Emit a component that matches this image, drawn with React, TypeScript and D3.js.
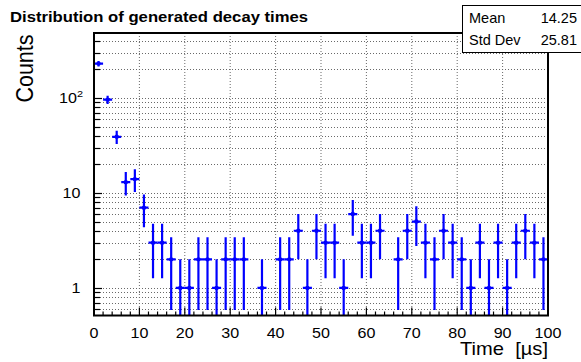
import React from "react";
import * as d3 from "d3";

// Histogram of generated decay times: 50 bins of 2 µs between 0 and 100 µs
const binCenters = [
  1, 3, 5, 7, 9, 11, 13, 15, 17, 19,
  21, 23, 25, 27, 29, 31, 33, 35, 37, 39,
  41, 43, 45, 47, 49, 51, 53, 55, 57, 59,
  61, 63, 65, 67, 69, 71, 73, 75, 77, 79,
  81, 83, 85, 87, 89, 91, 93, 95, 97, 99,
];
const binHalfWidth = 1;
const counts = [
  230, 96, 39, 13, 14, 7, 3, 3, 2, 1,
  1, 2, 2, 1, 2, 2, 2, 0, 1, 0,
  2, 2, 4, 1, 4, 3, 3, 1, 6, 3,
  3, 4, 0, 2, 4, 5, 3, 2, 4, 3,
  2, 1, 3, 1, 3, 1, 3, 4, 3, 2,
];

const xTickValues = [0, 10, 20, 30, 40, 50, 60, 70, 80, 90, 100];
const yLabelValues = [1, 10, 100];
const titleText = "Distribution of generated decay times";
const xTitle = "Time  [µs]";
const yTitle = "Counts";
const statNames = ["Mean", "Std Dev"];
const statValues = ["14.25", "25.81"];

const W = 581;
const H = 362;
const frame = { left: 94, right: 548, top: 33, bottom: 315.5 };
// glyphs are drawn slightly wider than tall
const stretch = 1.15;

type TProps = {
  x: number;
  y: number;
  size: number;
  anchor?: "start" | "middle" | "end";
  bold?: boolean;
  rotate?: number;
  children: React.ReactNode;
};

function WideText({ x, y, size, anchor = "start", bold, rotate, children }: TProps) {
  const t = `translate(${x},${y}) scale(${stretch},1)` + (rotate ? ` rotate(${rotate})` : "");
  return (
    <text
      transform={t}
      fontSize={size}
      textAnchor={anchor}
      fontWeight={bold ? "bold" : "normal"}
      fill="#000"
      style={{ whiteSpace: "pre" }}
    >
      {children}
    </text>
  );
}

export default function App() {
  const x = d3.scaleLinear().domain([0, 100]).range([frame.left, frame.right]);
  const y = d3.scaleLog().domain([0.513, 483]).range([frame.bottom, frame.top]);

  // all 1..9 x 10^k steps inside the visible range
  const [yMin, yMax] = y.domain();
  const yAllTicks: number[] = [];
  for (let e = -1; e <= 3; e++) {
    for (let m = 1; m <= 9; m++) {
      const v = m * Math.pow(10, e);
      if (v >= yMin && v <= yMax) yAllTicks.push(v);
    }
  }
  const xMinorTicks = d3.range(0, 100.001, 2);

  const font = "'Liberation Sans', Arial, Helvetica, sans-serif";
  const blue = "#0000ff";

  return (
    <svg
      width={W}
      height={H}
      style={{ position: "fixed", left: 0, top: 0, background: "#fff" }}
      fontFamily={font}
    >
      <defs>
        <clipPath id="plotArea">
          <rect
            x={frame.left}
            y={frame.top}
            width={frame.right - frame.left}
            height={frame.bottom - frame.top}
          />
        </clipPath>
      </defs>
      <rect x={0} y={0} width={W} height={H} fill="#fff" />

      {/* grid */}
      <g stroke="#444" strokeWidth={1} strokeDasharray="1 2" opacity={0.8}>
        {xTickValues.slice(1, -1).map((v) => (
          <line key={"gx" + v} x1={x(v)} x2={x(v)} y1={frame.top} y2={frame.bottom} />
        ))}
        {yAllTicks.map((v) => (
          <line
            key={"gy" + v}
            x1={frame.left}
            x2={frame.right}
            y1={Math.round(y(v)) + 0.5}
            y2={Math.round(y(v)) + 0.5}
          />
        ))}
      </g>

      {/* axis ticks */}
      <g stroke="#000" strokeWidth={1.2}>
        {xMinorTicks.map((v) => {
          const major = v % 10 === 0;
          return (
            <line
              key={"tx" + v}
              x1={x(v)}
              x2={x(v)}
              y1={frame.bottom}
              y2={frame.bottom - (major ? 8 : 4)}
            />
          );
        })}
        {yAllTicks.map((v) => {
          const major = yLabelValues.includes(v);
          return (
            <line
              key={"ty" + v}
              x1={frame.left}
              x2={frame.left + (major ? 8 : 6)}
              y1={Math.round(y(v)) + 0.5}
              y2={Math.round(y(v)) + 0.5}
            />
          );
        })}
      </g>

      {/* data points with Poisson error bars */}
      <g clipPath="url(#plotArea)" stroke={blue} strokeWidth={2.2} fill={blue}>
        {binCenters.map((c, i) => {
          const n = counts[i];
          if (n <= 0) return null;
          const err = Math.sqrt(n);
          const lo = n - err > yMin ? y(n - err) : frame.bottom + 5;
          const hi = y(n + err);
          const cx = x(c);
          const cy = y(n);
          return (
            <g key={"p" + i}>
              <line x1={cx} x2={cx} y1={lo} y2={hi} />
              <line x1={x(c - binHalfWidth)} x2={x(c + binHalfWidth)} y1={cy} y2={cy} />
              <circle cx={cx} cy={cy} r={2.2} stroke="none" />
            </g>
          );
        })}
      </g>

      {/* frame */}
      <rect
        x={frame.left}
        y={frame.top}
        width={frame.right - frame.left}
        height={frame.bottom - frame.top}
        fill="none"
        stroke="#000"
        strokeWidth={2}
      />

      {/* x tick labels */}
      {xTickValues.map((v) => (
        <WideText key={"lx" + v} x={x(v)} y={337.5} size={14} anchor="middle">
          {v}
        </WideText>
      ))}

      {/* y tick labels */}
      {yLabelValues.map((v) => {
        const ty = y(v) + 5;
        if (v === 100) {
          return (
            <WideText key={"ly" + v} x={83} y={ty} size={14} anchor="end">
              10<tspan fontSize={9.5} dy={-6}>2</tspan>
            </WideText>
          );
        }
        return (
          <WideText key={"ly" + v} x={80.5} y={ty} size={14} anchor="end">
            {v}
          </WideText>
        );
      })}

      {/* axis titles */}
      <WideText x={548} y={355} size={17.5} anchor="end">
        {xTitle}
      </WideText>
      <WideText x={33} y={34.5} size={21.5} anchor="end" rotate={-90}>
        {yTitle}
      </WideText>

      {/* title */}
      <WideText x={10} y={22} size={14.5} bold>
        {titleText}
      </WideText>

      {/* statistics box */}
      <rect x={462.5} y={5.5} width={130} height={47} fill="#fff" stroke="#000" strokeWidth={1} />
      <g fontSize={14.5} fill="#000">
        {statNames.map((s, i) => (
          <text key={"sn" + i} x={469} y={23 + i * 22}>
            {s}
          </text>
        ))}
        {statValues.map((s, i) => (
          <text key={"sv" + i} x={577} y={23 + i * 22} textAnchor="end">
            {s}
          </text>
        ))}
      </g>
    </svg>
  );
}
